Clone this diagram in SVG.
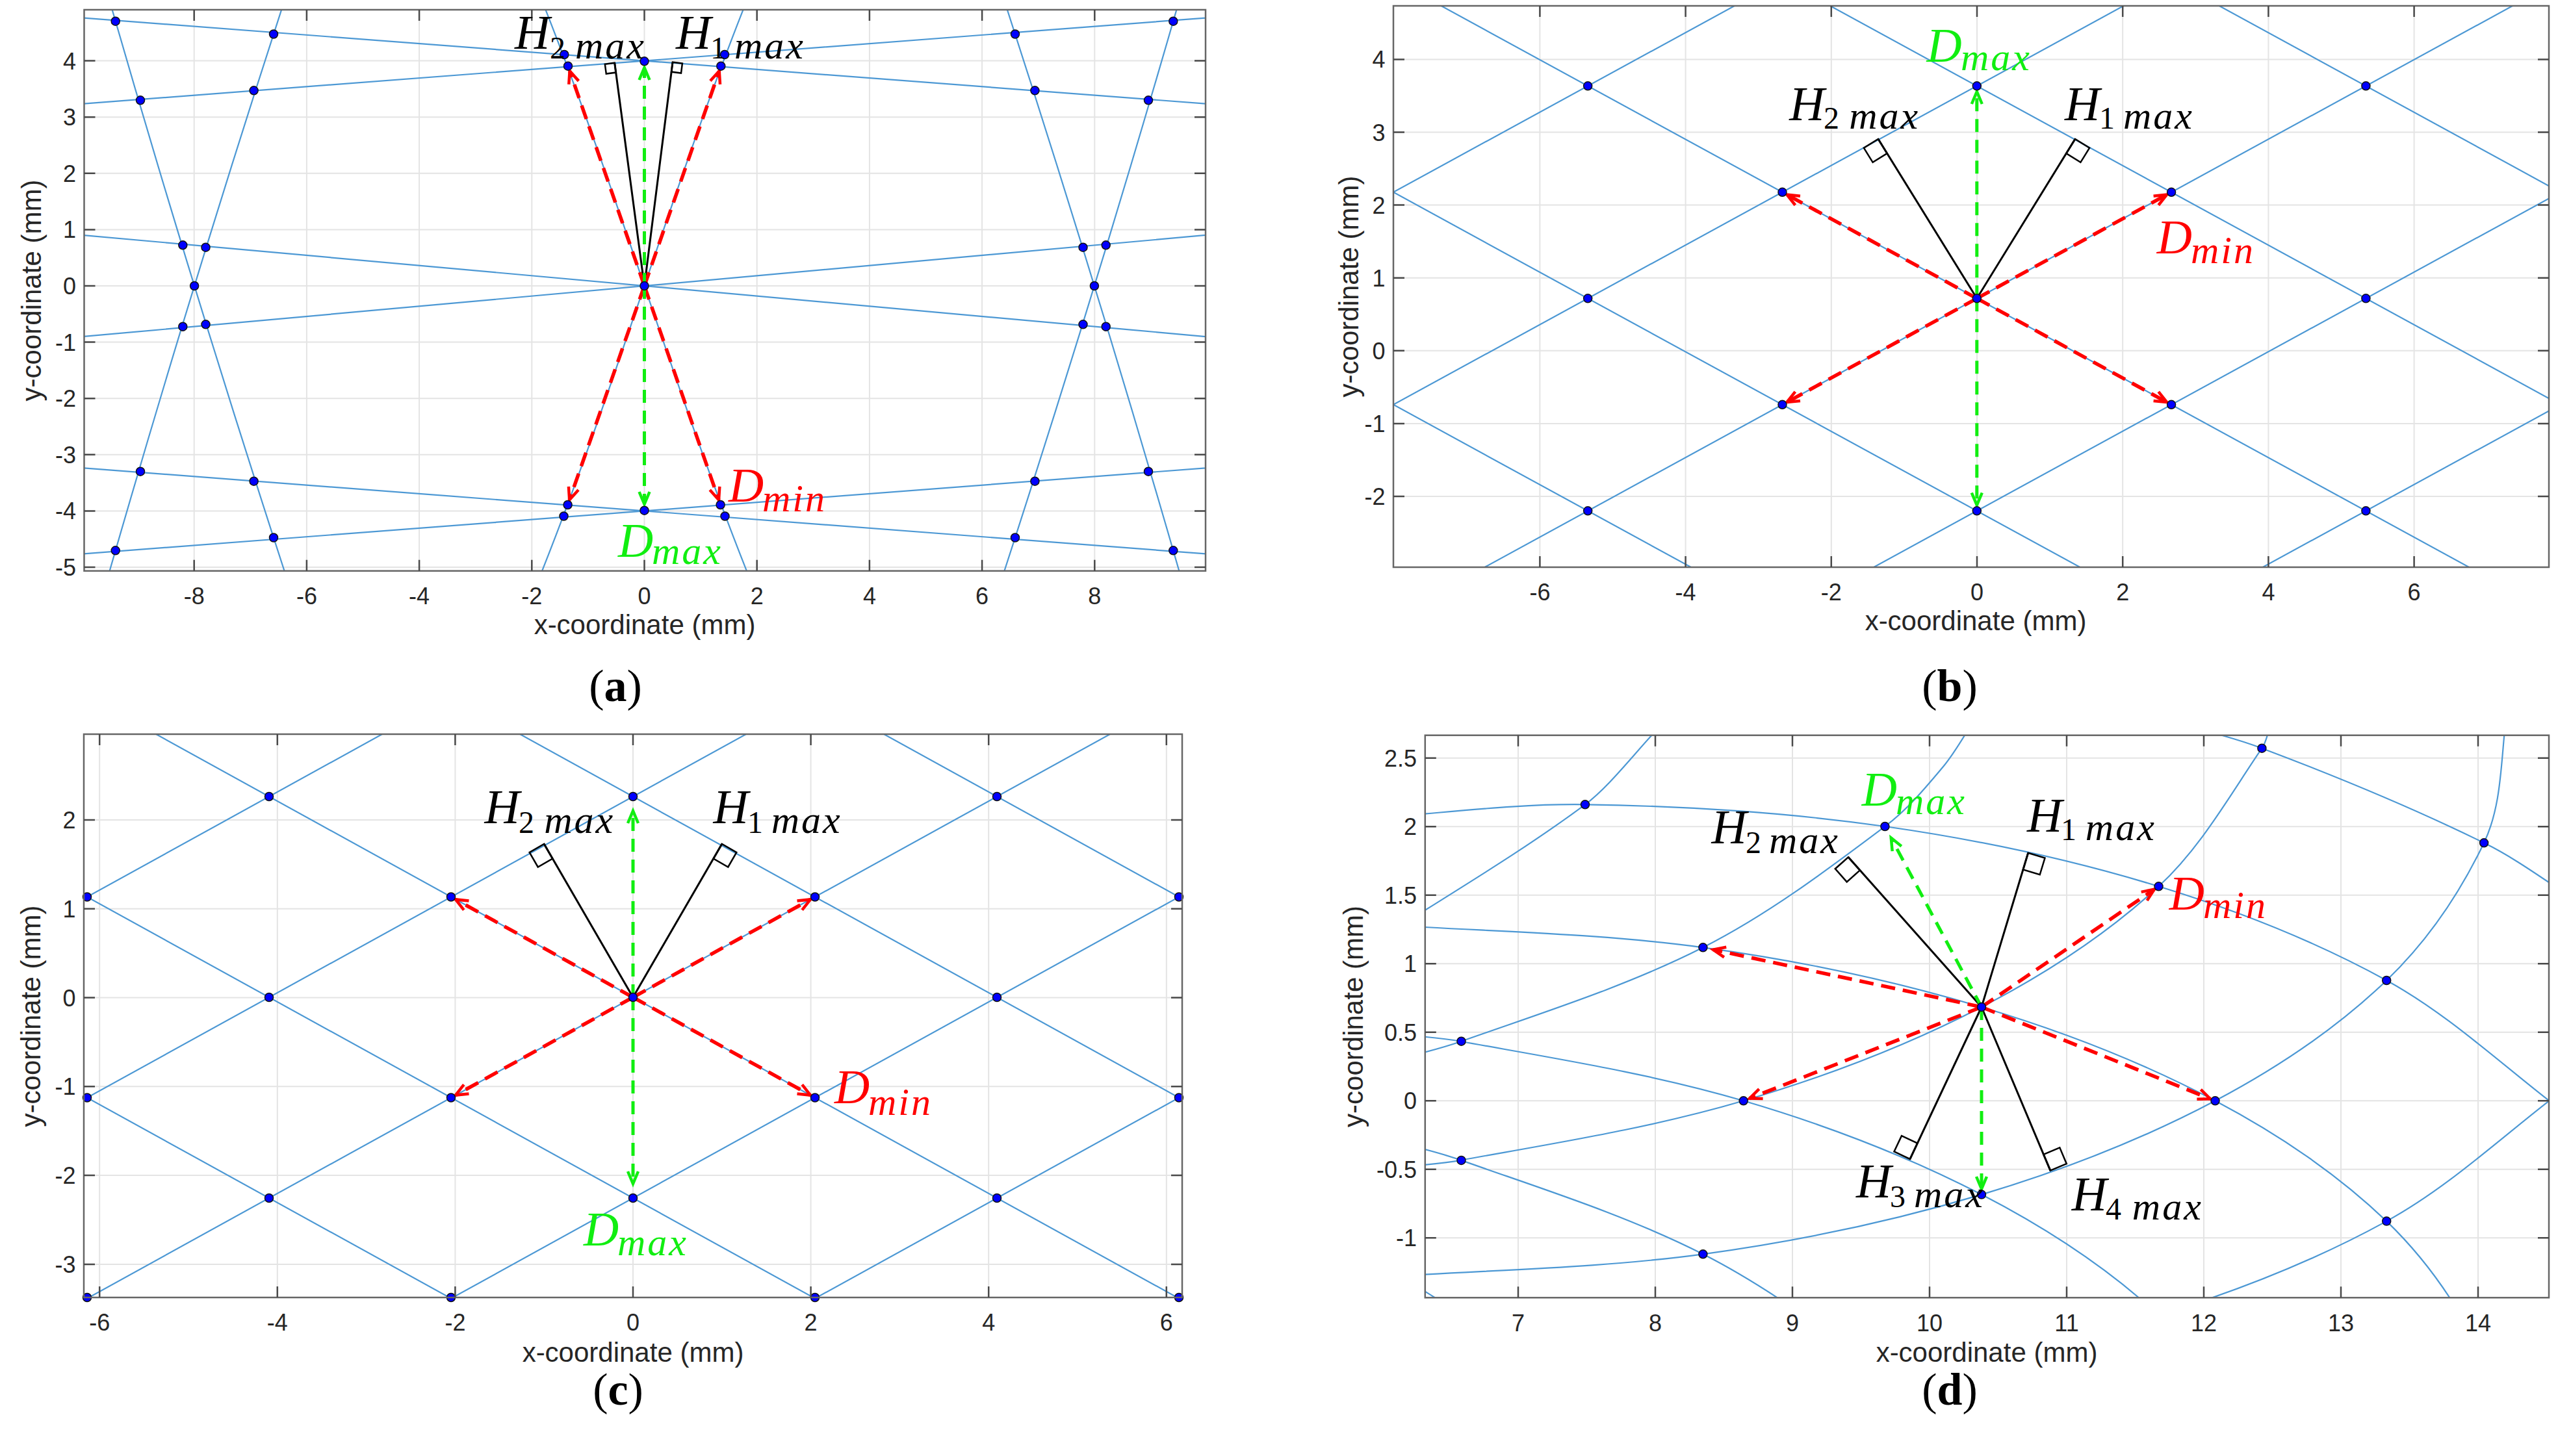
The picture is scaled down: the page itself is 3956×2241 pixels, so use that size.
<svg xmlns="http://www.w3.org/2000/svg" width="3956" height="2241" viewBox="0 0 3956 2241">
<style>
.grid{stroke:#e4e4e4;stroke-width:2;fill:none}
.ax{fill:none;stroke:#666;stroke-width:2.5}
.tk{stroke:#4a4a4a;stroke-width:2.5;fill:none}
.lat{stroke:#4c98d4;stroke-width:2.2;fill:none}
.dots circle{fill:#0000ff;stroke:#111;stroke-width:1.5}
.red{stroke:#ff0000;stroke-width:5.5;stroke-dasharray:22 12;fill:none;marker-end:url(#mr)}
.grn{stroke:#11ee11;stroke-width:5;stroke-dasharray:20 12;fill:none;marker-end:url(#mg)}
.blk{stroke:#000;stroke-width:3;fill:none}
.sq{stroke:#000;stroke-width:2.5;fill:none}
.tl{font-family:"Liberation Sans",Arial,sans-serif;font-size:36px;fill:#262626}
.tx{text-anchor:middle}
.ty{text-anchor:end}
.al{font-family:"Liberation Sans",Arial,sans-serif;font-size:42px;fill:#262626;text-anchor:middle}
.mt{font-family:"Liberation Serif","Times New Roman",serif;font-style:italic;font-size:75px}
.sb{font-size:60px;letter-spacing:3px}
.dg{font-style:normal;font-size:48px}
.pl{font-family:"Liberation Serif","Times New Roman",serif;font-size:70px;text-anchor:middle;fill:#000}
</style>
<defs>
<clipPath id="ca"><rect x="129.5" y="15" width="1725.5" height="863.7"/></clipPath>
<clipPath id="cb"><rect x="2144" y="9" width="1778" height="864"/></clipPath>
<clipPath id="cc"><rect x="129" y="1130" width="1690" height="867"/></clipPath>
<clipPath id="cd"><rect x="2192.8" y="1131.7" width="1729.2" height="865.6"/></clipPath>
<marker id="mr" markerUnits="userSpaceOnUse" viewBox="-30 -20 40 40" markerWidth="40" markerHeight="40" refX="0" refY="0" orient="auto" overflow="visible"><path d="M-19,-8 L0,0 L-19,8" fill="none" stroke="#ff0000" stroke-width="4.5"/></marker>
<marker id="mg" markerUnits="userSpaceOnUse" viewBox="-30 -20 40 40" markerWidth="40" markerHeight="40" refX="0" refY="0" orient="auto" overflow="visible"><path d="M-19,-8 L0,0 L-19,8" fill="none" stroke="#11ee11" stroke-width="4.5"/></marker>
<g id="darcs" class="lat">
<path d="M2100,1460 C2213,1386.1 2330.7,1318.9 2439,1238.3 C2472.3,1213.6 2508.2,1168.1 2541.5,1131.7 C2552,1120.3 2560.5,1107.2 2570,1095"/>
<path d="M2100,1643 C2149.5,1629.6 2200.2,1619.8 2248.5,1602.7 C2373.8,1558.3 2501.8,1518.4 2620.4,1458.3 C2720.4,1407.6 2810.8,1339.4 2900.4,1272 C2934.6,1246.3 2962.6,1212.8 2990,1180 C3009.2,1157 3023.3,1130 3040,1105"/>
<path d="M2100,1800.4 C2149.5,1795.6 2199.6,1794.5 2248.5,1785.6 C2394,1759.2 2540.9,1736.1 2682.7,1694.3 C2808.5,1657.3 2932.4,1610.2 3049,1550 C3146.6,1499.6 3240.8,1438.8 3321.5,1364.3 C3386.5,1304.3 3430.5,1224.8 3480.4,1151.7 C3488.7,1139.6 3490.1,1123.9 3495,1110"/>
<path d="M2100,1967.3 C2273.4,1954.7 2448.1,1953.8 2620.4,1930.3 C2765.2,1910.6 2909,1880.5 3049,1838.6 C3172.7,1801.6 3294.4,1754.7 3408.5,1694.3 C3503.4,1644.1 3594.7,1583.4 3672.2,1509 C3734.6,1449.1 3784.7,1375.3 3822.1,1297.3 C3846.4,1246.6 3848,1187 3853.3,1131.7 C3855.2,1121.2 3856.1,1110.6 3857.5,1100"/>
<path d="M2100,1260 C2213,1252.8 2325.8,1236.6 2439,1238.3 C2593.2,1240.6 2747.8,1250.2 2900.4,1272 C3042.6,1292.3 3184.1,1322.1 3321.5,1364.3 C3442.4,1401.4 3561.3,1448.1 3672.2,1509 C3763,1558.9 3840.3,1630.3 3922,1694 C3943,1710.4 3960.7,1730.7 3980,1749"/>
<path d="M3300,1100.5 C3360.1,1117.6 3421.9,1129.7 3480.4,1151.7 C3596.2,1195.4 3711,1242.7 3822.1,1297.3 C3881.3,1326.4 3934,1369 3990,1402.3"/>
</g>
</defs>
<rect x="0" y="0" width="3956" height="2241" fill="#fff"/>

<!-- ================= PANEL A ================= -->
<g id="panel-a">
<path class="grid" d="M298.7 15V878.7M471.9 15V878.7M645.1 15V878.7M818.3 15V878.7M991.5 15V878.7M1164.7 15V878.7M1337.9 15V878.7M1511.1 15V878.7M1684.3 15V878.7M129.5 93.6H1855M129.5 180.2H1855M129.5 266.8H1855M129.5 353.4H1855M129.5 440H1855M129.5 526.6H1855M129.5 613.2H1855M129.5 699.8H1855M129.5 786.4H1855M129.5 873H1855"/>
<g id="a-lattice" class="lat" clip-path="url(#ca)">
<path d="M100 25.4L1890 162.3M100 161.8L1890 24.9M100 359.4L1890 521.2M100 520.6L1890 358.8M100 718.2L1890 855.1M100 854.6L1890 717.7"/>
<path d="M168.3,0 Q297.9,450 444.5,900M168.3,880 Q297.9,430 444.5,-20M1814.7,0 Q1685.1,450 1538.5,900M1814.7,880 Q1685.1,430 1538.5,-20"/>
<path d="M825.6,-20 C949,286.7 1034,593.3 1157.4,900M1157.4,-20 C1034,286.7 949,593.3 825.6,900"/>
</g>
<g id="a-connectors">
<path class="blk" d="M991.5 440L945.7 96.7M991.5 440L1035 95.7"/>
<polygon class="sq" points="945.7,96.7 947.7,111.6 932.8,113.6 930.8,98.7"/>
<polygon class="sq" points="1035,95.7 1033.1,110.6 1048,112.5 1049.9,97.6"/>
<path class="red" d="M991.5 440L876.6 109.3"/>
<path class="red" d="M991.5 440L1106.7 109.3"/>
<path class="red" d="M991.5 440L876.2 769.4"/>
<path class="red" d="M991.5 440L1106 769.4"/>
<path class="grn" d="M991.5 440L991.5 104"/>
<path class="grn" d="M991.5 440L991.5 776"/>
</g>
<g id="a-dots" class="dots">
<circle cx="177.7" cy="32.7" r="6.5"/><circle cx="216" cy="154.3" r="6.5"/><circle cx="390.6" cy="139.3" r="6.5"/><circle cx="421" cy="52.5" r="6.5"/>
<circle cx="281.3" cy="377.3" r="6.5"/><circle cx="316.5" cy="380.7" r="6.5"/><circle cx="299.1" cy="440" r="6.5"/><circle cx="281.3" cy="502.7" r="6.5"/><circle cx="316.5" cy="499.3" r="6.5"/>
<circle cx="216" cy="725.7" r="6.5"/><circle cx="177.7" cy="847.3" r="6.5"/><circle cx="390.6" cy="740.7" r="6.5"/><circle cx="421" cy="827.5" r="6.5"/>
<circle cx="1805.3" cy="32.7" r="6.5"/><circle cx="1767" cy="154.3" r="6.5"/><circle cx="1592.4" cy="139.3" r="6.5"/><circle cx="1562" cy="52.5" r="6.5"/>
<circle cx="1701.7" cy="377.3" r="6.5"/><circle cx="1666.5" cy="380.7" r="6.5"/><circle cx="1683.9" cy="440" r="6.5"/><circle cx="1701.7" cy="502.7" r="6.5"/><circle cx="1666.5" cy="499.3" r="6.5"/>
<circle cx="1767" cy="725.7" r="6.5"/><circle cx="1805.3" cy="847.3" r="6.5"/><circle cx="1592.4" cy="740.7" r="6.5"/><circle cx="1562" cy="827.5" r="6.5"/>
<circle cx="868.3" cy="84" r="6.5"/><circle cx="874" cy="101.7" r="6.5"/><circle cx="1109.3" cy="101.7" r="6.5"/><circle cx="1115" cy="84" r="6.5"/><circle cx="991.5" cy="94.3" r="6.5"/>
<circle cx="991.5" cy="440" r="6.5"/>
<circle cx="873.6" cy="777" r="6.5"/><circle cx="867.5" cy="794.5" r="6.5"/><circle cx="1108.6" cy="777" r="6.5"/><circle cx="1115.5" cy="794.5" r="6.5"/><circle cx="991.5" cy="785.7" r="6.5"/>
</g>
<g id="a-axes">
<rect class="ax" x="129.5" y="15" width="1725.5" height="863.7"/>
<path class="tk" d="M298.7 878.7v-17M471.9 878.7v-17M645.1 878.7v-17M818.3 878.7v-17M991.5 878.7v-17M1164.7 878.7v-17M1337.9 878.7v-17M1511.1 878.7v-17M1684.3 878.7v-17M298.7 15v17M471.9 15v17M645.1 15v17M818.3 15v17M991.5 15v17M1164.7 15v17M1337.9 15v17M1511.1 15v17M1684.3 15v17M129.5 93.6h17M129.5 180.2h17M129.5 266.8h17M129.5 353.4h17M129.5 440h17M129.5 526.6h17M129.5 613.2h17M129.5 699.8h17M129.5 786.4h17M129.5 873h17M1855 93.6h-17M1855 180.2h-17M1855 266.8h-17M1855 353.4h-17M1855 440h-17M1855 526.6h-17M1855 613.2h-17M1855 699.8h-17M1855 786.4h-17M1855 873h-17"/>
<g class="tl tx">
<text x="298.7" y="930">-8</text><text x="471.9" y="930">-6</text><text x="645.1" y="930">-4</text><text x="818.3" y="930">-2</text><text x="991.5" y="930">0</text><text x="1164.7" y="930">2</text><text x="1337.9" y="930">4</text><text x="1511.1" y="930">6</text><text x="1684.3" y="930">8</text>
</g>
<g class="tl ty">
<text x="117" y="106.6">4</text><text x="117" y="193.2">3</text><text x="117" y="279.8">2</text><text x="117" y="366.4">1</text><text x="117" y="453">0</text><text x="117" y="539.6">-1</text><text x="117" y="626.2">-2</text><text x="117" y="712.8">-3</text><text x="117" y="799.4">-4</text><text x="117" y="886">-5</text>
</g>
<text class="al" x="992" y="976">x-coordinate (mm)</text>
<text class="al" transform="translate(63,447) rotate(-90)">y-coordinate (mm)</text>
</g>
<g id="a-labels">
<text class="mt" fill="#000"><tspan x="792" y="75">H</tspan><tspan class="dg" x="846" y="90">2</tspan><tspan class="sb" x="885" y="90">max</tspan></text>
<text class="mt" fill="#000"><tspan x="1040" y="75">H</tspan><tspan class="dg" x="1093" y="90">1</tspan><tspan class="sb" x="1130" y="90">max</tspan></text>
<text class="mt" fill="#ff0000"><tspan x="1121" y="771.7">D</tspan><tspan class="sb" x="1173" y="786.7">min</tspan></text>
<text class="mt" fill="#11ee11"><tspan x="951" y="856.7">D</tspan><tspan class="sb" x="1003" y="868.3">max</tspan></text>
<text class="pl" x="947" y="1079">(<tspan font-weight="bold">a</tspan>)</text>
</g>
</g>

<!-- ================= PANEL B ================= -->
<g id="panel-b">
<path class="grid" d="M2369.4 9V873M2593.6 9V873M2817.8 9V873M3042 9V873M3266.2 9V873M3490.4 9V873M3714.6 9V873M2144 91.4H3922M2144 203.5H3922M2144 315.6H3922M2144 427.7H3922M2144 539.8H3922M2144 651.9H3922M2144 764H3922"/>
<g id="b-lattice" class="lat" clip-path="url(#cb)">
<path d="M2100 319.8L3960 -696.3M2100 646.8L3960 -369.3M2100 973.8L3960 -42.3M2100 1300.8L3960 284.7M2100 1627.8L3960 611.7M2100 1954.8L3960 938.7"/>
<path d="M2100 -709.2L3960 306.9M2100 -382.2L3960 633.9M2100 -55.2L3960 960.9M2100 271.8L3960 1287.9M2100 598.8L3960 1614.9M2100 925.8L3960 1941.9"/>
</g>
<g id="b-connectors">
<path class="blk" d="M3041.8 459.3L2890 214M3041.8 459.3L3193 214"/>
<polygon class="sq" points="2890,214 2903.7,236.1 2881.6,249.8 2867.9,227.7"/>
<polygon class="sq" points="3193,214 3179.3,236.1 3201.4,249.8 3215.1,227.7"/>
<path class="red" d="M3041.8 459.3L3334.1 299.6"/>
<path class="red" d="M3041.8 459.3L2749.5 299.6"/>
<path class="red" d="M3041.8 459.3L3334.1 619"/>
<path class="red" d="M3041.8 459.3L2749.5 619"/>
<path class="grn" d="M3041.8 459.3L3041.8 141"/>
<path class="grn" d="M3041.8 459.3L3041.8 777.5"/>
</g>
<g id="b-dots" class="dots">
<circle cx="2443.2" cy="132.3" r="6.5"/><circle cx="3041.8" cy="132.3" r="6.5"/><circle cx="3640.4" cy="132.3" r="6.5"/>
<circle cx="2742.5" cy="295.8" r="6.5"/><circle cx="3341.1" cy="295.8" r="6.5"/>
<circle cx="2443.2" cy="459.3" r="6.5"/><circle cx="3041.8" cy="459.3" r="6.5"/><circle cx="3640.4" cy="459.3" r="6.5"/>
<circle cx="2742.5" cy="622.8" r="6.5"/><circle cx="3341.1" cy="622.8" r="6.5"/>
<circle cx="2443.2" cy="786.3" r="6.5"/><circle cx="3041.8" cy="786.3" r="6.5"/><circle cx="3640.4" cy="786.3" r="6.5"/>
</g>
<g id="b-axes">
<rect class="ax" x="2144" y="9" width="1778" height="864"/>
<path class="tk" d="M2369.4 873v-17M2593.6 873v-17M2817.8 873v-17M3042 873v-17M3266.2 873v-17M3490.4 873v-17M3714.6 873v-17M2369.4 9v17M2593.6 9v17M2817.8 9v17M3042 9v17M3266.2 9v17M3490.4 9v17M3714.6 9v17M2144 91.4h17M2144 203.5h17M2144 315.6h17M2144 427.7h17M2144 539.8h17M2144 651.9h17M2144 764h17M3922 91.4h-17M3922 203.5h-17M3922 315.6h-17M3922 427.7h-17M3922 539.8h-17M3922 651.9h-17M3922 764h-17"/>
<g class="tl tx">
<text x="2369.4" y="924.3">-6</text><text x="2593.6" y="924.3">-4</text><text x="2817.8" y="924.3">-2</text><text x="3042" y="924.3">0</text><text x="3266.2" y="924.3">2</text><text x="3490.4" y="924.3">4</text><text x="3714.6" y="924.3">6</text>
</g>
<g class="tl ty">
<text x="2131.5" y="104.4">4</text><text x="2131.5" y="216.5">3</text><text x="2131.5" y="328.6">2</text><text x="2131.5" y="440.7">1</text><text x="2131.5" y="552.8">0</text><text x="2131.5" y="664.9">-1</text><text x="2131.5" y="777">-2</text>
</g>
<text class="al" x="3040" y="970">x-coordinate (mm)</text>
<text class="al" transform="translate(2090,441) rotate(-90)">y-coordinate (mm)</text>
</g>
<g id="b-labels">
<text class="mt" fill="#11ee11"><tspan x="2964.6" y="95">D</tspan><tspan class="sb" x="3017" y="108.3">max</tspan></text>
<text class="mt" fill="#000"><tspan x="2753.3" y="185">H</tspan><tspan class="dg" x="2806" y="198.3">2</tspan><tspan class="sb" x="2845.2" y="198.3">max</tspan></text>
<text class="mt" fill="#000"><tspan x="3177" y="185">H</tspan><tspan class="dg" x="3230" y="198.3">1</tspan><tspan class="sb" x="3267" y="198.3">max</tspan></text>
<text class="mt" fill="#ff0000"><tspan x="3318.8" y="390">D</tspan><tspan class="sb" x="3371" y="405">min</tspan></text>
<text class="pl" x="3000" y="1079">(<tspan font-weight="bold">b</tspan>)</text>
</g>
</g>

<!-- ================= PANEL C ================= -->
<g id="panel-c">
<path class="grid" d="M153.2 1130V1997M426.8 1130V1997M700.4 1130V1997M974 1130V1997M1247.6 1130V1997M1521.2 1130V1997M1794.8 1130V1997M129 1261.9H1819M129 1398.7H1819M129 1535.5H1819M129 1672.3H1819M129 1809.1H1819M129 1945.9H1819"/>
<g id="c-lattice" class="lat" clip-path="url(#cc)">
<path d="M100 1399.3L1880 417.1M100 1708.3L1880 726.1M100 2017.3L1880 1035.1M100 2326.3L1880 1344.1M100 2635.3L1880 1653.1M100 2944.3L1880 1962.1"/>
<path d="M100 434.7L1880 1416.9M100 743.7L1880 1725.9M100 1052.7L1880 2034.9M100 1361.7L1880 2343.9M100 1670.7L1880 2652.9M100 1979.7L1880 2961.9"/>
</g>
<g id="c-connectors">
<path class="blk" d="M974 1535L837.2 1299M974 1535L1110.8 1299"/>
<polygon class="sq" points="837.2,1299 850.2,1321.5 827.7,1334.5 814.7,1312"/>
<polygon class="sq" points="1110.8,1299 1097.8,1321.5 1120.3,1334.5 1133.3,1312"/>
<path class="red" d="M974 1535L1247 1384.4"/>
<path class="red" d="M974 1535L701 1384.4"/>
<path class="red" d="M974 1535L1247 1685.6"/>
<path class="red" d="M974 1535L701 1685.6"/>
<path class="grn" d="M974 1535L974 1248"/>
<path class="grn" d="M974 1535L974 1822"/>
</g>
<g id="c-dots" class="dots">
<circle cx="414" cy="1226" r="6.5"/><circle cx="974" cy="1226" r="6.5"/><circle cx="1534" cy="1226" r="6.5"/>
<circle cx="134" cy="1380.5" r="6.5"/><circle cx="694" cy="1380.5" r="6.5"/><circle cx="1254" cy="1380.5" r="6.5"/><circle cx="1814" cy="1380.5" r="6.5"/>
<circle cx="414" cy="1535" r="6.5"/><circle cx="974" cy="1535" r="6.5"/><circle cx="1534" cy="1535" r="6.5"/>
<circle cx="134" cy="1689.5" r="6.5"/><circle cx="694" cy="1689.5" r="6.5"/><circle cx="1254" cy="1689.5" r="6.5"/><circle cx="1814" cy="1689.5" r="6.5"/>
<circle cx="414" cy="1844" r="6.5"/><circle cx="974" cy="1844" r="6.5"/><circle cx="1534" cy="1844" r="6.5"/>
<circle cx="134" cy="1997" r="6.5"/><circle cx="694" cy="1997" r="6.5"/><circle cx="1254" cy="1997" r="6.5"/><circle cx="1814" cy="1997" r="6.5"/>
</g>
<g id="c-axes">
<rect class="ax" x="129" y="1130" width="1690" height="867"/>
<path class="tk" d="M153.2 1997v-17M426.8 1997v-17M700.4 1997v-17M974 1997v-17M1247.6 1997v-17M1521.2 1997v-17M1794.8 1997v-17M153.2 1130v17M426.8 1130v17M700.4 1130v17M974 1130v17M1247.6 1130v17M1521.2 1130v17M1794.8 1130v17M129 1261.9h17M129 1398.7h17M129 1535.5h17M129 1672.3h17M129 1809.1h17M129 1945.9h17M1819 1261.9h-17M1819 1398.7h-17M1819 1535.5h-17M1819 1672.3h-17M1819 1809.1h-17M1819 1945.9h-17"/>
<g class="tl tx">
<text x="153.2" y="2048">-6</text><text x="426.8" y="2048">-4</text><text x="700.4" y="2048">-2</text><text x="974" y="2048">0</text><text x="1247.6" y="2048">2</text><text x="1521.2" y="2048">4</text><text x="1794.8" y="2048">6</text>
</g>
<g class="tl ty">
<text x="116.5" y="1274.9">2</text><text x="116.5" y="1411.7">1</text><text x="116.5" y="1548.5">0</text><text x="116.5" y="1685.3">-1</text><text x="116.5" y="1822.1">-2</text><text x="116.5" y="1958.9">-3</text>
</g>
<text class="al" x="974" y="2096">x-coordinate (mm)</text>
<text class="al" transform="translate(62,1564) rotate(-90)">y-coordinate (mm)</text>
</g>
<g id="c-labels">
<text class="mt" fill="#000"><tspan x="745.4" y="1266.7">H</tspan><tspan class="dg" x="798" y="1281.7">2</tspan><tspan class="sb" x="837.2" y="1281.7">max</tspan></text>
<text class="mt" fill="#000"><tspan x="1097.4" y="1266.7">H</tspan><tspan class="dg" x="1150" y="1281.7">1</tspan><tspan class="sb" x="1186.7" y="1281.7">max</tspan></text>
<text class="mt" fill="#ff0000"><tspan x="1284" y="1698">D</tspan><tspan class="sb" x="1336" y="1716">min</tspan></text>
<text class="mt" fill="#11ee11"><tspan x="898" y="1917">D</tspan><tspan class="sb" x="950" y="1932">max</tspan></text>
<text class="pl" x="951" y="2162">(<tspan font-weight="bold">c</tspan>)</text>
</g>
</g>

<!-- ================= PANEL D ================= -->
<g id="panel-d">
<path class="grid" d="M2336 1131.7V1997.3M2547 1131.7V1997.3M2758 1131.7V1997.3M2969 1131.7V1997.3M3180 1131.7V1997.3M3391 1131.7V1997.3M3602 1131.7V1997.3M3813 1131.7V1997.3M2192.8 1166.8H3922M2192.8 1272.3H3922M2192.8 1377.8H3922M2192.8 1483.3H3922M2192.8 1588.8H3922M2192.8 1694.3H3922M2192.8 1799.8H3922M2192.8 1905.3H3922"/>
<g id="d-lattice" clip-path="url(#cd)">
<use href="#darcs"/>
<use href="#darcs" transform="matrix(1 0 0 -1 0 3388.6)"/>
</g>
<g id="d-connectors">
<path class="blk" d="M3049 1550L2844 1319.3M3049 1550L3120.7 1312.7M3049 1550L2938.9 1784M3049 1550L3154.9 1801.7"/>
<polygon class="sq" points="2844,1319.3 2861.9,1339.5 2841.7,1357.4 2823.8,1337.2"/>
<polygon class="sq" points="3120.7,1312.7 3112.9,1338.5 3138.7,1346.3 3146.5,1320.5"/>
<polygon class="sq" points="2938.9,1784 2950.4,1759.6 2926,1748.1 2914.5,1772.5"/>
<polygon class="sq" points="3154.9,1801.7 3144.4,1776.8 3169.3,1766.3 3179.8,1791.2"/>
<path class="red" d="M3049 1550L2636 1461.6"/>
<path class="red" d="M3049 1550L3314.9 1368.8"/>
<path class="red" d="M3049 1550L2692 1690.6"/>
<path class="red" d="M3049 1550L3401 1691.3"/>
<path class="grn" d="M3049 1550L2909.8 1289.6"/>
<path class="grn" d="M3049 1550L3049 1830"/>
</g>
<g id="d-dots" class="dots">
<circle cx="2439" cy="1238.3" r="6.5"/><circle cx="2900.4" cy="1272" r="6.5"/><circle cx="2620.4" cy="1458.3" r="6.5"/><circle cx="3480.4" cy="1151.7" r="6.5"/><circle cx="3822.1" cy="1297.3" r="6.5"/>
<circle cx="3321.5" cy="1364.3" r="6.5"/><circle cx="3672.2" cy="1509" r="6.5"/><circle cx="3049" cy="1550" r="6.5"/><circle cx="2248.5" cy="1602.7" r="6.5"/><circle cx="2248.5" cy="1785.9" r="6.5"/>
<circle cx="2682.7" cy="1694.3" r="6.5"/><circle cx="2620.4" cy="1930.3" r="6.5"/><circle cx="3408.5" cy="1694.3" r="6.5"/><circle cx="3672.2" cy="1879.6" r="6.5"/><circle cx="3049" cy="1838.6" r="6.5"/>
</g>
<g id="d-axes">
<rect class="ax" x="2192.8" y="1131.7" width="1729.2" height="865.6"/>
<path class="tk" d="M2336 1997.3v-17M2547 1997.3v-17M2758 1997.3v-17M2969 1997.3v-17M3180 1997.3v-17M3391 1997.3v-17M3602 1997.3v-17M3813 1997.3v-17M2336 1131.7v17M2547 1131.7v17M2758 1131.7v17M2969 1131.7v17M3180 1131.7v17M3391 1131.7v17M3602 1131.7v17M3813 1131.7v17M2192.8 1166.8h17M2192.8 1272.3h17M2192.8 1377.8h17M2192.8 1483.3h17M2192.8 1588.8h17M2192.8 1694.3h17M2192.8 1799.8h17M2192.8 1905.3h17M3922 1166.8h-17M3922 1272.3h-17M3922 1377.8h-17M3922 1483.3h-17M3922 1588.8h-17M3922 1694.3h-17M3922 1799.8h-17M3922 1905.3h-17"/>
<g class="tl tx">
<text x="2336" y="2048.6">7</text><text x="2547" y="2048.6">8</text><text x="2758" y="2048.6">9</text><text x="2969" y="2048.6">10</text><text x="3180" y="2048.6">11</text><text x="3391" y="2048.6">12</text><text x="3602" y="2048.6">13</text><text x="3813" y="2048.6">14</text>
</g>
<g class="tl ty">
<text x="2180" y="1179.8">2.5</text><text x="2180" y="1285.3">2</text><text x="2180" y="1390.8">1.5</text><text x="2180" y="1496.3">1</text><text x="2180" y="1601.8">0.5</text><text x="2180" y="1707.3">0</text><text x="2180" y="1812.8">-0.5</text><text x="2180" y="1918.3">-1</text>
</g>
<text class="al" x="3057" y="2096">x-coordinate (mm)</text>
<text class="al" transform="translate(2097,1564.5) rotate(-90)">y-coordinate (mm)</text>
</g>
<g id="d-labels">
<text class="mt" fill="#11ee11"><tspan x="2864.8" y="1240">D</tspan><tspan class="sb" x="2917" y="1253.3">max</tspan></text>
<text class="mt" fill="#000"><tspan x="2633.5" y="1298.3">H</tspan><tspan class="dg" x="2686" y="1313.3">2</tspan><tspan class="sb" x="2722" y="1313.3">max</tspan></text>
<text class="mt" fill="#000"><tspan x="3118.9" y="1280">H</tspan><tspan class="dg" x="3171" y="1293.3">1</tspan><tspan class="sb" x="3208.8" y="1293.3">max</tspan></text>
<text class="mt" fill="#ff0000"><tspan x="3337.7" y="1400">D</tspan><tspan class="sb" x="3390" y="1413.3">min</tspan></text>
<text class="mt" fill="#000"><tspan x="2855.9" y="1843.3">H</tspan><tspan class="dg" x="2908" y="1858.3">3</tspan><tspan class="sb" x="2945" y="1858.3">max</tspan></text>
<text class="mt" fill="#000"><tspan x="3187.8" y="1863.3">H</tspan><tspan class="dg" x="3240" y="1876.7">4</tspan><tspan class="sb" x="3280.8" y="1876.7">max</tspan></text>
<text class="pl" x="3000" y="2162">(<tspan font-weight="bold">d</tspan>)</text>
</g>
</g>
</svg>
